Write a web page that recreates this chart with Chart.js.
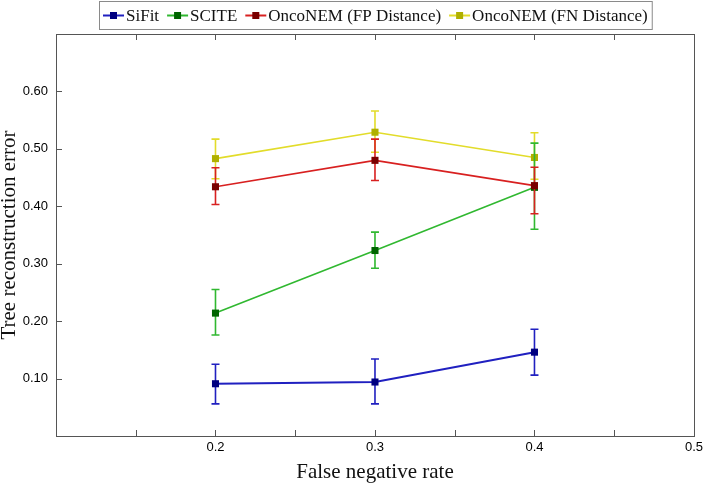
<!DOCTYPE html>
<html>
<head>
<meta charset="utf-8">
<script src="https://cdn.jsdelivr.net/npm/chart.js@4.4.1/dist/chart.umd.min.js"></script>
<style>
  html, body { margin: 0; padding: 0; background: #fff; }
  #wrap { width: 707px; height: 483px; }
</style>
</head>
<body>
<div id="wrap"><canvas id="chart" width="707" height="483"></canvas></div>
<script>
// false negative rates on the x axis
const fnRates = [0.2, 0.3, 0.4];

const seriesNames = ["SiFit", "SCITE", "OncoNEM (FP Distance)", "OncoNEM (FN Distance)"];

const sifitMean = [0.091, 0.094, 0.146];
const sifitLow  = [0.056, 0.056, 0.106];
const sifitHigh = [0.125, 0.134, 0.186];

const sciteMean = [0.214, 0.323, 0.433];
const sciteLow  = [0.176, 0.292, 0.360];
const sciteHigh = [0.255, 0.355, 0.510];

const fpMean = [0.434, 0.480, 0.436];
const fpLow  = [0.403, 0.445, 0.387];
const fpHigh = [0.467, 0.517, 0.468];

const fnMean = [0.483, 0.529, 0.485];
const fnLow  = [0.448, 0.494, 0.447];
const fnHigh = [0.517, 0.566, 0.528];

const yTickLabels = ["0.10", "0.20", "0.30", "0.40", "0.50", "0.60"];
const xTickLabels = ["0.2", "0.3", "0.4", "0.5"];

const lineColors   = ["#2020c0", "#30b830", "#d82020", "#e2dc2a"];
const markerColors = ["#000080", "#006400", "#7a0000", "#b0b000"];

const means = [sifitMean, sciteMean, fpMean, fnMean];
const lows  = [sifitLow, sciteLow, fpLow, fnLow];
const highs = [sifitHigh, sciteHigh, fpHigh, fnHigh];
// later series sit on top
const drawOrder = [2, 1, 0, 3];

const datasets = seriesNames.map((name, i) => ({
    label: name,
    data: fnRates.map((x, j) => ({ x: x, y: means[i][j] })),
    borderColor: lineColors[i],
    backgroundColor: markerColors[i],
    pointBackgroundColor: markerColors[i],
    pointBorderColor: markerColors[i],
    pointStyle: 'rect',
    pointRadius: 5,
    pointBorderWidth: 0,
    borderWidth: i === 0 ? 2 : 1.6,
    tension: 0,
    order: drawOrder[i],
    errLow: lows[i],
    errHigh: highs[i]
}));

const whiteBg = {
    id: 'whiteBg',
    beforeDraw: (chart) => {
        const ctx = chart.ctx;
        ctx.save();
        ctx.fillStyle = '#fff';
        ctx.fillRect(0, 0, chart.width, chart.height);
        ctx.restore();
    }
};

const errorBars = {
    id: 'errorBars',
    beforeDatasetDraw: (chart, args) => {
        const ds = chart.data.datasets[args.index];
        const xs = chart.scales.x, ys = chart.scales.y;
        const ctx = chart.ctx;
        ctx.save();
        ctx.strokeStyle = ds.borderColor;
        ctx.lineWidth = 1.6;
        ds.data.forEach((p, j) => {
            const px = xs.getPixelForValue(p.x);
            const top = ys.getPixelForValue(ds.errHigh[j]);
            const bot = ys.getPixelForValue(ds.errLow[j]);
            ctx.beginPath();
            ctx.moveTo(px, top); ctx.lineTo(px, bot);
            ctx.moveTo(px - 4, top); ctx.lineTo(px + 4, top);
            ctx.moveTo(px - 4, bot); ctx.lineTo(px + 4, bot);
            ctx.stroke();
        });
        ctx.restore();
    }
};

const frameAndTicks = {
    id: 'frameAndTicks',
    afterDraw: (chart) => {
        const { left, right, top, bottom } = chart.chartArea;
        const ctx = chart.ctx;
        ctx.save();
        ctx.strokeStyle = '#555';
        ctx.lineWidth = 1;
        ctx.strokeRect(Math.round(left) + 0.5, Math.round(top) + 0.5,
                       Math.round(right - left), Math.round(bottom - top));
        ctx.beginPath();
        chart.scales.x.ticks.forEach(t => {
            if (t.value <= 0.1001 || t.value >= 0.4999) return;
            const px = Math.round(chart.scales.x.getPixelForValue(t.value)) + 0.5;
            ctx.moveTo(px, bottom); ctx.lineTo(px, bottom - 6);
            ctx.moveTo(px, top); ctx.lineTo(px, top + 6);
        });
        chart.scales.y.ticks.forEach(t => {
            if (t.value < 0.05 || t.value > 0.65) return;
            const py = Math.round(chart.scales.y.getPixelForValue(t.value)) + 0.5;
            ctx.moveTo(left, py); ctx.lineTo(left + 6, py);
        });
        ctx.stroke();
        ctx.restore();
    }
};

const boxLegend = {
    id: 'boxLegend',
    afterDraw: (chart) => {
        const ctx = chart.ctx;
        const area = chart.chartArea;
        ctx.save();
        ctx.font = '17px "Liberation Serif", "Times New Roman", serif';
        const sampleW = 21, afterSample = 2, between = 8, padL = 4, padR = 4;
        const widths = seriesNames.map(n => ctx.measureText(n).width);
        let total = padL + padR;
        widths.forEach((w, i) => { total += sampleW + afterSample + w + (i < widths.length - 1 ? between : 0); });
        const boxX = Math.round((area.left + area.right) / 2 - total / 2);
        const boxY = 1, boxH = 28;
        ctx.fillStyle = '#fff';
        ctx.fillRect(boxX, boxY, total, boxH);
        ctx.strokeStyle = '#8a8a8a';
        ctx.lineWidth = 1;
        ctx.strokeRect(boxX + 0.5, boxY + 0.5, total, boxH);
        const cy = boxY + boxH / 2 + 0.5;
        let x = boxX + padL;
        seriesNames.forEach((name, i) => {
            ctx.strokeStyle = lineColors[i];
            ctx.lineWidth = 2;
            ctx.beginPath();
            ctx.moveTo(x, cy); ctx.lineTo(x + sampleW, cy);
            ctx.stroke();
            ctx.fillStyle = markerColors[i];
            ctx.fillRect(x + sampleW / 2 - 3.5, cy - 3.5, 7, 7);
            x += sampleW + afterSample;
            ctx.fillStyle = '#111';
            ctx.textBaseline = 'middle';
            ctx.fillText(name, x, cy + 1);
            x += widths[i] + between;
        });
        ctx.restore();
    }
};

new Chart(document.getElementById('chart').getContext('2d'), {
    type: 'line',
    data: { datasets: datasets },
    options: {
        responsive: false,
        animation: false,
        devicePixelRatio: 1,
        layout: { padding: { top: 34, right: 10, left: 0, bottom: 0 } },
        plugins: {
            legend: { display: false },
            tooltip: { enabled: false }
        },
        scales: {
            x: {
                type: 'linear',
                min: 0.1,
                max: 0.5,
                grid: { display: false, drawTicks: false },
                border: { display: false },
                ticks: {
                    stepSize: 0.05,
                    autoSkip: false,
                    maxRotation: 0,
                    padding: 4,
                    color: '#000',
                    font: { family: '"Liberation Sans", Arial, sans-serif', size: 13 },
                    callback: (v) => {
                        const s = Number(v).toFixed(1);
                        return (Math.abs(v * 10 - Math.round(v * 10)) < 1e-6 && xTickLabels.includes(s)) ? s : '';
                    }
                },
                title: {
                    display: true,
                    text: 'False negative rate',
                    color: '#111',
                    padding: { top: 0, bottom: 0 },
                    font: { family: '"Liberation Serif", "Times New Roman", serif', size: 21, lineHeight: 1.0 }
                },
                afterFit: (scale) => { scale.height = 47; }
            },
            y: {
                min: 0,
                max: 0.7,
                grid: { display: false, drawTicks: false },
                border: { display: false },
                ticks: {
                    stepSize: 0.1,
                    padding: 8,
                    color: '#000',
                    font: { family: '"Liberation Sans", Arial, sans-serif', size: 13 },
                    callback: (v) => {
                        const s = Number(v).toFixed(2);
                        return yTickLabels.includes(s) ? s : '';
                    }
                },
                title: {
                    display: true,
                    text: 'Tree reconstruction error',
                    color: '#111',
                    padding: { top: 0, bottom: 0 },
                    font: { family: '"Liberation Serif", "Times New Roman", serif', size: 21, lineHeight: 0.9 }
                },
                afterFit: (scale) => { scale.width = 56; }
            }
        }
    },
    plugins: [whiteBg, errorBars, frameAndTicks, boxLegend]
});
</script>
</body>
</html>
